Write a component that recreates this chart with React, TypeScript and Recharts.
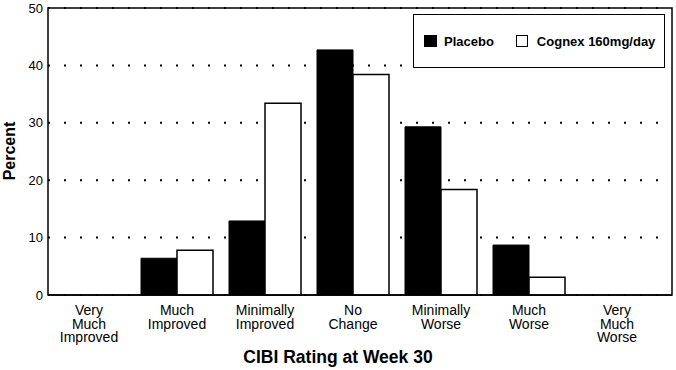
import React from 'react';
import { BarChart, Bar, XAxis, YAxis, CartesianGrid, Legend, usePlotArea } from 'recharts';

const categories = [
  'Very\nMuch\nImproved',
  'Much\nImproved',
  'Minimally\nImproved',
  'No\nChange',
  'Minimally\nWorse',
  'Much\nWorse',
  'Very\nMuch\nWorse',
];
const placebo = [0, 6.4, 12.9, 42.7, 29.3, 8.7, 0];
const cognex = [0, 7.8, 33.4, 38.4, 18.4, 3.1, 0];
const yTicks = [0, 10, 20, 30, 40, 50];
const seriesNames = ['Placebo', 'Cognex 160mg/day'];

const data = categories.map((name, i) => ({ name, placebo: placebo[i], cognex: cognex[i] }));

const FONT = '"Liberation Sans", Arial, Helvetica, sans-serif';

const CategoryTick = (props: any) => {
  const { x, y, payload } = props;
  const lines = String(payload.value).split('\n');
  return (
    <text x={x} y={y} textAnchor="middle" fontSize={14} fill="#000" fontFamily={FONT}>
      {lines.map((line, i) => (
        <tspan key={i} x={x} dy={i === 0 ? 20 : 13.5}>
          {line}
        </tspan>
      ))}
    </text>
  );
};

// border round the whole plot area
const Frame = () => {
  const area = usePlotArea();
  if (!area) return null;
  return (
    <rect x={area.x} y={area.y} width={area.width} height={area.height} fill="none" stroke="#000" strokeWidth={1.5} />
  );
};

const LegendBox = () => (
  <div
    style={{
      boxSizing: 'border-box',
      width: '100%',
      height: '100%',
      border: '1.5px solid #000',
      background: '#fff',
      display: 'flex',
      alignItems: 'center',
      paddingLeft: 10,
      fontFamily: FONT,
      fontWeight: 'bold',
      fontSize: 13,
      color: '#000',
    }}
  >
    <span style={{ display: 'inline-block', width: 13, height: 12, background: '#000', marginRight: 7 }} />
    <span style={{ marginRight: 22 }}>{seriesNames[0]}</span>
    <span style={{ display: 'inline-block', width: 10, height: 10, border: '1px solid #000', background: '#fff', marginRight: 9 }} />
    <span>{seriesNames[1]}</span>
  </div>
);

export default function App() {
  return (
    <div style={{ position: 'absolute', left: 0, top: 0, background: '#fff' }}>
      <BarChart
        width={676}
        height={370}
        data={data}
        margin={{ top: 8, right: 4, left: 0, bottom: 0 }}
        barGap={0}
        barSize={36}
        style={{ fontFamily: FONT }}
      >
        <CartesianGrid vertical={false} stroke="#000" strokeWidth={2} strokeDasharray="2 14" />
        <XAxis
          dataKey="name"
          height={75}
          interval={0}
          tickLine={false}
          tickSize={0}
          tickMargin={0}
          axisLine={{ stroke: '#000', strokeWidth: 1.5 }}
          padding={{ left: -3, right: 11 }}
          tick={<CategoryTick />}
        />
        <YAxis
          width={48}
          domain={[0, 50]}
          ticks={yTicks}
          interval={0}
          tickLine={false}
          axisLine={false}
          tickSize={0}
          tickMargin={5}
          tick={{ fontSize: 13, fill: '#000' }}
        />
        <Legend
          layout="horizontal"
          verticalAlign="middle"
          align="center"
          wrapperStyle={{ position: 'absolute', left: 413, top: 14, width: 252, height: 54 }}
          content={() => <LegendBox />}
        />
        <Bar dataKey="placebo" name={seriesNames[0]} fill="#000" stroke="#000" strokeWidth={1} isAnimationActive={false} />
        <Bar dataKey="cognex" name={seriesNames[1]} fill="#fff" stroke="#000" strokeWidth={1.5} isAnimationActive={false} />
        <Frame />
        <text x={338} y={363} textAnchor="middle" fontWeight="bold" fontSize={17.5} fill="#000" fontFamily={FONT}>
          CIBI Rating at Week 30
        </text>
        <text transform="translate(15,151) rotate(-90)" textAnchor="middle" fontWeight="bold" fontSize={16} fill="#000" fontFamily={FONT}>
          Percent
        </text>
      </BarChart>
    </div>
  );
}
